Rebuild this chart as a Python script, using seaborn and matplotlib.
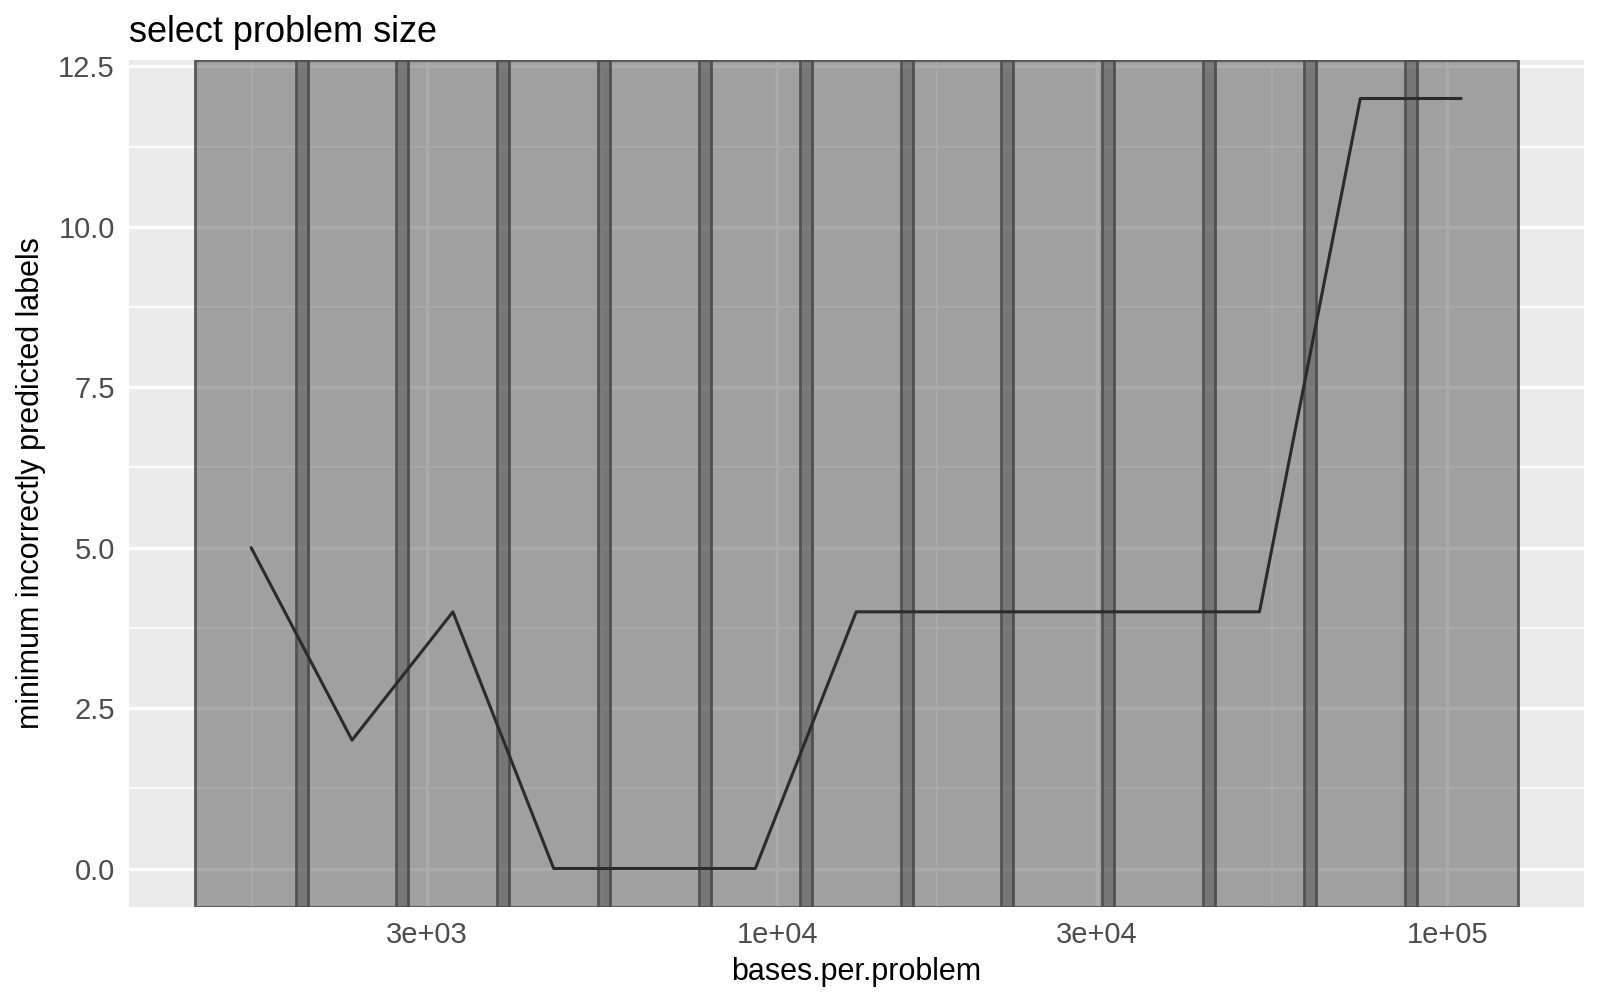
import numpy as np
import pandas as pd
import matplotlib
matplotlib.use("Agg")
import matplotlib.pyplot as plt
import seaborn as sns

# ---- data ----
bases_per_problem = [1638, 2317, 3277, 4634, 6554, 9268, 13107,
                     18536, 26214, 37073, 52429, 74146, 104858]
min_incorrect = [5, 2, 4, 0, 0, 0, 4, 4, 4, 4, 4, 12, 12]
x_tick_values = [3e3, 1e4, 3e4, 1e5]
x_tick_labels = ["3e+03", "1e+04", "3e+04", "1e+05"]
y_tick_values = [0.0, 2.5, 5.0, 7.5, 10.0, 12.5]
y_tick_labels = ["0.0", "2.5", "5.0", "7.5", "10.0", "12.5"]
title_text = "select problem size"
x_label = "bases.per.problem"
y_label = "minimum incorrectly predicted labels"

df = pd.DataFrame({"bases.per.problem": bases_per_problem,
                   "min_incorrect": min_incorrect})

sns.set_theme(style="darkgrid")
plt.rcParams["font.family"] = ["Liberation Sans", "DejaVu Sans"]

W, H = 1600, 1000
fig = plt.figure(figsize=(W / 100, H / 100), dpi=100)
ax = fig.add_axes([128.6 / W, 1 - 907 / H, (1583.7 - 128.6) / W, (907 - 60) / H])
ax.set_facecolor("#EBEBEB")
for s in ax.spines.values():
    s.set_visible(False)

ax.set_xscale("log")

# rectangles around each problem size (half width in log space)
half = 1.214
lo = np.array(bases_per_problem) / half
hi = np.array(bases_per_problem) * half
llo, lhi = np.log10(lo.min()), np.log10(hi.max())
pad = 0.05 * (lhi - llo)
ax.set_xlim(10 ** (llo - pad), 10 ** (lhi + pad))
ax.set_ylim(-0.6, 12.6)

# grid
ax.set_xticks(x_tick_values)
ax.set_xticklabels(x_tick_labels)
lt = np.log10(x_tick_values)
mids = list((lt[:-1] + lt[1:]) / 2)
mids = [lt[0] - (lt[1] - lt[0]) / 2] + mids
ax.set_xticks([10 ** m for m in mids], minor=True)
ax.set_xticklabels([], minor=True)
ax.set_yticks(y_tick_values)
ax.set_yticklabels(y_tick_labels)
ax.set_yticks([1.25, 3.75, 6.25, 8.75, 11.25], minor=True)
ax.grid(which="major", color="white", linewidth=2.4)
ax.grid(which="minor", color="white", linewidth=1.2)
ax.set_axisbelow(True)

g = 70 / 255
for a, b in zip(lo, hi):
    ax.axvspan(a, b, facecolor=(g, g, g, 0.45), edgecolor=(0.31, 0.31, 0.31, 0.92),
               linewidth=2.0, zorder=2)

sns.lineplot(data=df, x="bases.per.problem", y="min_incorrect", ax=ax,
             color="#2b2b2b", linewidth=2.2, zorder=3)

ax.tick_params(axis="both", which="major", length=6, width=2, color="#333333",
               labelcolor="#4D4D4D", labelsize=21, pad=4)
ax.tick_params(axis="both", which="minor", length=0)

ax.set_xlabel(x_label, fontsize=22, color="black", labelpad=6)
ax.set_ylabel(y_label, fontsize=22, color="black", labelpad=9)
fig.text(128.6 / W, 1 - 42 / H, title_text, fontsize=26, color="black",
         ha="left", va="baseline")

fig.savefig("out.png", dpi=100)
